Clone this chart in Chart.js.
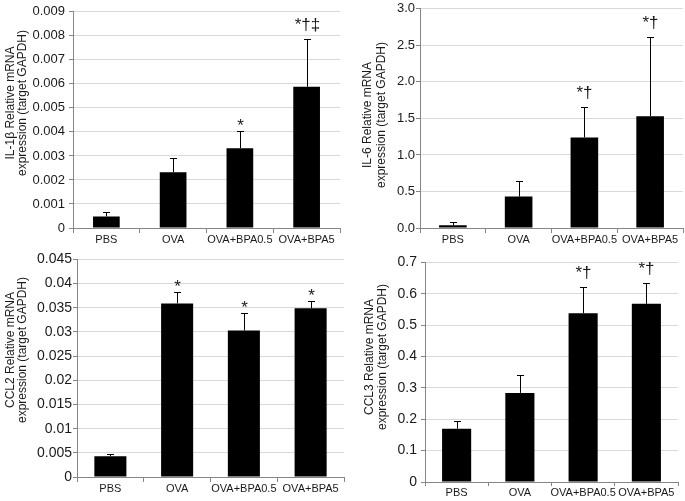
<!DOCTYPE html>
<html><head><meta charset="utf-8">
<script src="https://cdn.jsdelivr.net/npm/chart.js@4/dist/chart.umd.min.js"></script>
<style>
html,body{margin:0;padding:0;background:#fff;}
body{width:685px;height:501px;position:relative;overflow:hidden;}
.p{position:absolute;}
canvas{display:block;}
</style></head><body>
<div class="p" style="left:0;top:0;width:345px;height:250px"><canvas id="c1" width="345" height="250"></canvas></div>
<div class="p" style="left:345px;top:0;width:340px;height:250px"><canvas id="c2" width="340" height="250"></canvas></div>
<div class="p" style="left:0;top:250px;width:345px;height:251px"><canvas id="c3" width="345" height="251"></canvas></div>
<div class="p" style="left:345px;top:250px;width:340px;height:251px"><canvas id="c4" width="340" height="251"></canvas></div>
<script>
const categories = ["PBS", "OVA", "OVA+BPA0.5", "OVA+BPA5"];

const il1bMean  = [0.00048, 0.00232, 0.00332, 0.00588];
const il1bErr   = [0.00018, 0.00059, 0.00071, 0.00197];
const il1bMarks = ["", "", "*", "*†‡"];
const il1bTicks = ["0","0.001","0.002","0.003","0.004","0.005","0.006","0.007","0.008","0.009"];
const il1bTitle = ["IL-1β Relative mRNA", "expression (target GAPDH)"];

const il6Mean  = [0.036, 0.43, 1.24, 1.53];
const il6Err   = [0.041, 0.22, 0.42, 1.08];
const il6Marks = ["", "", "*†", "*†"];
const il6Ticks = ["0.0","0.5","1.0","1.5","2.0","2.5","3.0"];
const il6Title = ["IL-6 Relative mRNA", "expression (target GAPDH)"];

const ccl2Mean  = [0.0043, 0.0359, 0.0303, 0.0349];
const ccl2Err   = [0.0004, 0.0023, 0.0036, 0.0015];
const ccl2Marks = ["", "*", "*", "*"];
const ccl2Ticks = ["0","0.005","0.01","0.015","0.02","0.025","0.03","0.035","0.04","0.045"];
const ccl2Title = ["CCL2 Relative mRNA", "expression (target GAPDH)"];

const ccl3Mean  = [0.170, 0.284, 0.538, 0.568];
const ccl3Err   = [0.024, 0.056, 0.085, 0.065];
const ccl3Marks = ["", "", "*†", "*†"];
const ccl3Ticks = ["0","0.1","0.2","0.3","0.4","0.5","0.6","0.7"];
const ccl3Title = ["CCL3 Relative mRNA", "expression (target GAPDH)"];

const FONT = '"Liberation Sans", Arial, sans-serif';
const TEXT = '#1a1a1a';
const GRID = '#d9d9d9';
const AXIS = '#868686';

const extras = {
  id: 'extras',
  afterDatasetsDraw(chart, args, o) {
    const ctx = chart.ctx, ys = chart.scales.y, meta = chart.getDatasetMeta(0);
    ctx.save();
    ctx.strokeStyle = '#000';
    ctx.lineWidth = 1;
    o.means.forEach((m, i) => {
      const x = Math.round(meta.data[i].x) + 0.5;
      const y0 = ys.getPixelForValue(m);
      const y1 = Math.round(ys.getPixelForValue(m + o.errs[i])) + 0.5;
      ctx.beginPath();
      ctx.moveTo(x, y0); ctx.lineTo(x, y1);
      ctx.moveTo(x - o.cap, y1); ctx.lineTo(x + o.cap, y1);
      ctx.stroke();
      const s = o.marks[i];
      if (s) {
        ctx.font = '17px ' + FONT;
        ctx.fillStyle = TEXT;
        ctx.textAlign = 'center';
        ctx.textBaseline = 'alphabetic';
        ctx.fillText(s, x, y1 - (/[†‡]/.test(s) ? 10 : 1));
      }
    });
    ctx.font = '12px ' + FONT;
    ctx.fillStyle = TEXT;
    ctx.textAlign = 'center';
    ctx.textBaseline = 'middle';
    o.title.forEach((line, k) => {
      ctx.save();
      ctx.translate(o.titleX[k], o.titleY);
      ctx.rotate(-Math.PI / 2);
      ctx.fillText(line, 0, 0);
      ctx.restore();
    });
    ctx.restore();
  }
};

function makeChart(id, p) {
  new Chart(document.getElementById(id), {
    type: 'bar',
    data: {
      labels: categories,
      datasets: [{
        data: p.means,
        backgroundColor: '#000',
        borderWidth: 0,
        categoryPercentage: 1,
        barPercentage: p.barPct
      }]
    },
    options: {
      responsive: false,
      animation: false,
      events: [],
      layout: { padding: { top: p.top, right: p.right, left: 0, bottom: 0 } },
      plugins: {
        legend: { display: false },
        tooltip: { enabled: false },
        extras: {
          means: p.means, errs: p.errs, marks: p.marks, cap: 3.5,
          title: p.title, titleX: p.titleX, titleY: p.titleY
        }
      },
      scales: {
        x: {
          offset: true,
          grid: { display: true, drawOnChartArea: false, drawTicks: true, tickLength: p.xTick, tickColor: AXIS, offset: true },
          border: { display: true, color: AXIS, width: 1 },
          ticks: { color: TEXT, font: { family: FONT, size: 11 }, padding: p.xPad, maxRotation: 0, minRotation: 0, autoSkip: false },
          afterFit: s => { s.height = p.xH; }
        },
        y: {
          min: 0, max: p.max,
          ticks: {
            stepSize: p.step, color: TEXT, font: { family: FONT, size: p.tickSize }, padding: p.yPad,
            callback: (v, i) => p.ticks[i]
          },
          grid: { color: GRID, lineWidth: 1, drawTicks: true, tickLength: 4, tickColor: AXIS },
          border: { display: true, color: AXIS, width: 1 },
          afterFit: s => { s.width = p.yW; }
        }
      }
    },
    plugins: [extras]
  });
}

makeChart('c1', { means: il1bMean, errs: il1bErr, marks: il1bMarks, ticks: il1bTicks, title: il1bTitle,
  max: 0.009, step: 0.001, barPct: 0.4, top: 7, right: 5, yW: 73, xH: 22, xTick: 5, xPad: 0, yPad: 4,
  tickSize: 13, titleX: [11, 23], titleY: 103 });
makeChart('c2', { means: il6Mean, errs: il6Err, marks: il6Marks, ticks: il6Ticks, title: il6Title,
  max: 3, step: 0.5, barPct: 0.42, top: 7, right: 2, yW: 75, xH: 22, xTick: 5, xPad: 0, yPad: 1,
  tickSize: 13, titleX: [23, 37], titleY: 115 });
makeChart('c3', { means: ccl2Mean, errs: ccl2Err, marks: ccl2Marks, ticks: ccl2Ticks, title: ccl2Title,
  max: 0.045, step: 0.005, barPct: 0.48, top: 9, right: 1, yW: 77, xH: 24, xTick: 5, xPad: 0, yPad: 1,
  tickSize: 14, titleX: [11, 23], titleY: 100 });
makeChart('c4', { means: ccl3Mean, errs: ccl3Err, marks: ccl3Marks, ticks: ccl3Ticks, title: ccl3Title,
  max: 0.7, step: 0.1, barPct: 0.46, top: 9, right: 7, yW: 80, xH: 19, xTick: 4, xPad: 0, yPad: 4,
  tickSize: 14, titleX: [25, 38], titleY: 107 });
</script>
</body></html>
